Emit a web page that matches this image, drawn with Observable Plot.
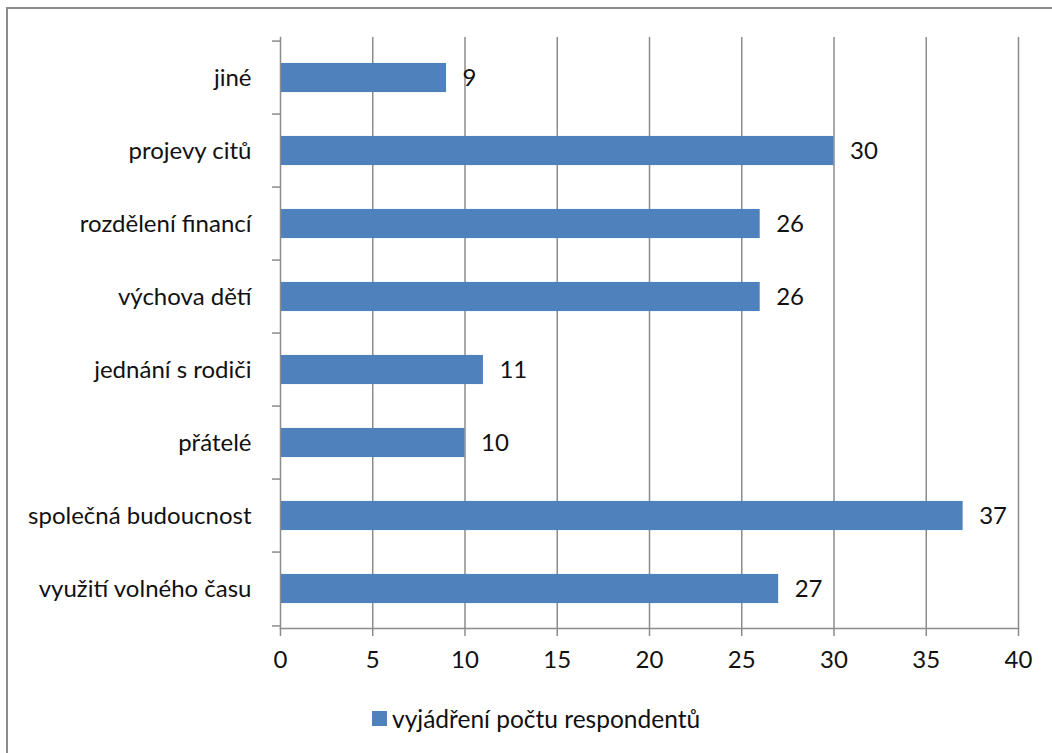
<!DOCTYPE html>
<html>
<head>
<meta charset="utf-8">
<script src="https://cdn.jsdelivr.net/npm/d3@7"></script>
<script src="https://cdn.jsdelivr.net/npm/@observablehq/plot@0.6"></script>
<style>
  html, body { margin: 0; padding: 0; background: #fff; overflow: hidden; }
  body { width: 1052px; height: 753px; position: relative; font-family: Lato, "Open Sans", sans-serif; }
  #frame { position: absolute; left: 6px; top: 7px; width: 1200px; height: 900px; border: 2px solid #8c8c8c; box-sizing: border-box; }
  #chart { position: absolute; left: 0; top: 0; }
  #legend { position: absolute; left: 372px; top: 704px; display: flex; align-items: center; font-size: 24.5px; color: #111; }
  #legend .sw { width: 15px; height: 15px; background: #4F81BD; margin-right: 5px; }
</style>
</head>
<body>
<div id="frame"></div>
<div id="chart"></div>
<div id="legend"><span class="sw"></span><span id="legend-label"></span></div>
<script>
// Categories from top to bottom, with respondent counts
const categories = [
  "jiné",
  "projevy citů",
  "rozdělení financí",
  "výchova dětí",
  "jednání s rodiči",
  "přátelé",
  "společná budoucnost",
  "využití volného času"
];
const counts = [9, 30, 26, 26, 11, 10, 37, 27];
const xTicks = [0, 5, 10, 15, 20, 25, 30, 35, 40];
const seriesName = "vyjádření počtu respondentů";

const data = categories.map((c, i) => ({category: c, value: counts[i]}));

const W = 1052, H = 690;
const mTop = 37, mBottom = 62, mLeft = 280, mRight = 34;
const step = (H - mTop - mBottom) / categories.length;
const barInset = (step - 30) / 2;
const grey = "#8c8c8c";
const fs = 24;

const chart = Plot.plot({
  width: W,
  height: H,
  marginTop: mTop,
  marginBottom: mBottom,
  marginLeft: mLeft,
  marginRight: mRight,
  style: {fontFamily: "Lato, 'Open Sans', sans-serif", fontSize: fs + "px", color: "#111", background: "transparent"},
  x: {domain: [0, 40], ticks: xTicks},
  y: {domain: categories, padding: 0},
  marks: [
    Plot.gridX(xTicks.filter(d => d > 0), {stroke: grey, strokeOpacity: 1, strokeWidth: 1.5}),
    Plot.barX(data, {x: "value", y: "category", fill: "#4F81BD", insetTop: barInset, insetBottom: barInset}),
    Plot.frame({anchor: "left", stroke: grey, strokeWidth: 1.5}),
    Plot.frame({anchor: "bottom", stroke: grey, strokeWidth: 1.5}),
    // tick marks between category bands
    Plot.axisY({tickSize: 8, text: null, label: null, dy: -step / 2, stroke: grey, strokeWidth: 1.5}),
    Plot.axisY({ticks: [categories[categories.length - 1]], tickSize: 8, text: null, label: null, dy: step / 2, stroke: grey, strokeWidth: 1.5}),
    Plot.axisY({tickSize: 0, tickPadding: 29, label: null, fontSize: fs, fill: "#111"}),
    Plot.axisX({ticks: xTicks, tickSize: 8, tickPadding: 14, stroke: grey, strokeWidth: 1.5, fontSize: fs, fill: "#111", label: null}),
    Plot.text(data, {x: "value", y: "category", text: d => String(d.value), dx: 16, textAnchor: "start", fontSize: fs, fill: "#111"})
  ]
});
document.getElementById("chart").appendChild(chart);
document.getElementById("legend-label").textContent = seriesName;
</script>
</body>
</html>
